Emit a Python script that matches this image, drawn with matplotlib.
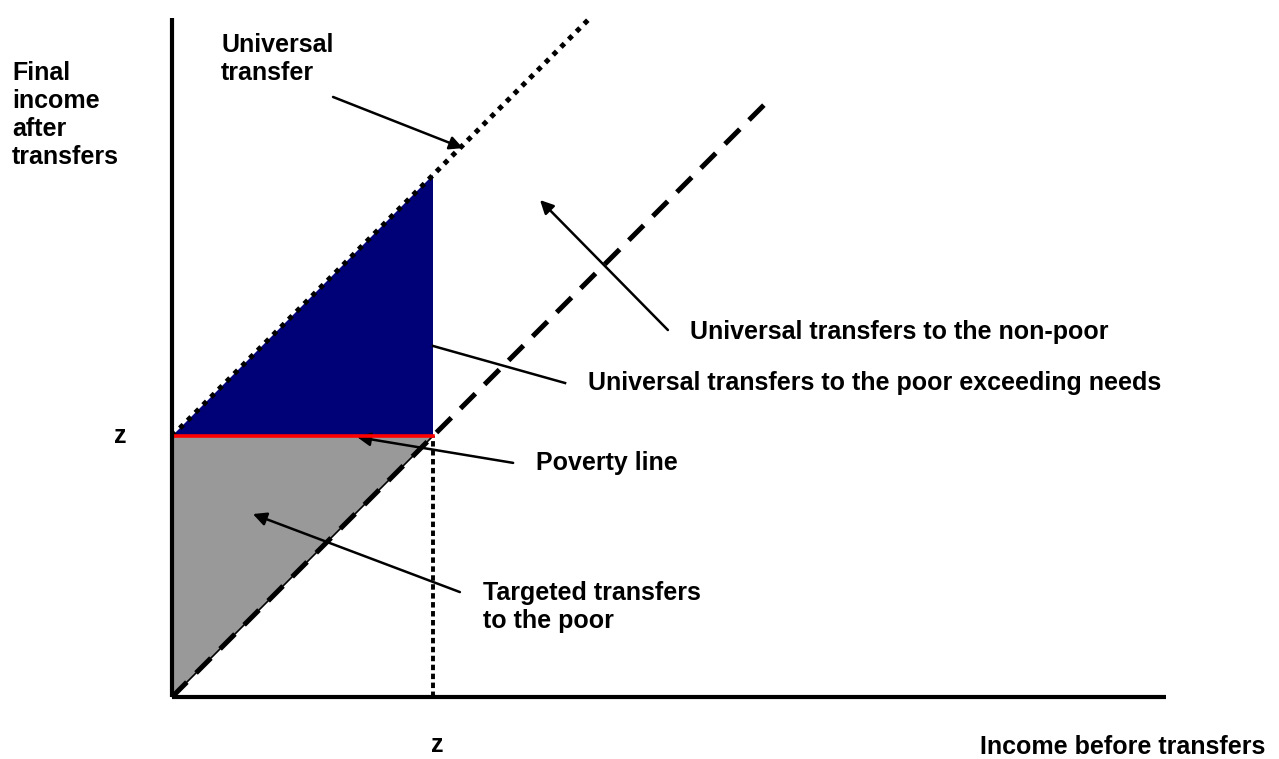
import matplotlib.pyplot as plt

# Data (in units of the poverty line z)
z = 1.0
x_axis_end = 3.81
y_axis_end = 2.60
no_transfer_end = 2.27          # 45-degree line: income after = income before
universal_end = 1.60            # universal transfer line: income after = income before + z

plt.rcParams['font.family'] = ['Liberation Sans', 'DejaVu Sans']

fig = plt.figure(figsize=(12.79, 7.59), dpi=100)
ax = fig.add_axes([0, 0, 1, 1])
ax.set_xlim(-172 / 261, (1279 - 172) / 261)
ax.set_ylim(-62 / 261, 697 / 261)
ax.axis('off')

# shaded areas
ax.fill([0, z, 0], [z, z, 0], facecolor='#999999', edgecolor='black', lw=1.2, zorder=1)
ax.fill([0, z, z], [z, z, 2 * z], color='#000077', lw=0, zorder=1)

# lines
ax.plot([0, no_transfer_end], [0, no_transfer_end], color='black', lw=3.6,
        dashes=(4.2, 2.6), zorder=3)
ax.plot([0, universal_end], [z, universal_end + z], color='black', lw=3.6,
        linestyle=(0, (1.0, 1.2)), zorder=3)
ax.plot([z, z], [0, z], color='black', lw=2.8, linestyle=(0, (1.4, 0.9)), zorder=3)
ax.plot([0, z], [z, z], color='red', lw=2.6, zorder=4)

# axes
ax.plot([0, 0], [0, y_axis_end], color='black', lw=3, solid_capstyle='butt', zorder=5)
ax.plot([0, x_axis_end], [0, 0], color='black', lw=3, solid_capstyle='butt', zorder=5)

fs = 18
tk = dict(fontsize=fs, fontweight='bold', color='black')
ax.text(-0.613, 2.23, 'Final\nincome\nafter\ntransfers', va='center', ha='left', linespacing=1.2, **tk)
ax.text(-0.199, z, 'z', va='center', ha='center', **tk)
ax.text(1.015, -0.185, 'z', va='center', ha='center', **tk)
ax.text(3.096, -0.19, 'Income before transfers', va='center', ha='left', **tk)

ap = dict(arrowstyle='-|>', color='black', lw=1.8, mutation_scale=20, shrinkA=0, shrinkB=0)
ax.text(0.188, 2.444, 'Universal\ntransfer', va='center', ha='left', linespacing=1.2, **tk)
ax.annotate('', xy=(1.115, 2.103), xytext=(0.617, 2.299), arrowprops=ap)
ax.text(1.985, 1.398, 'Universal transfers to the non-poor', va='center', ha='left', **tk)
ax.annotate('', xy=(1.410, 1.904), xytext=(1.900, 1.406), arrowprops=ap)
ax.text(1.594, 1.203, 'Universal transfers to the poor exceeding needs', va='center', ha='left', **tk)
ax.plot([1.506, 1.0], [1.203, 1.345], color='black', lw=1.8, zorder=2)
ax.text(1.395, 0.897, 'Poverty line', va='center', ha='left', **tk)
ax.annotate('', xy=(0.709, 0.996), xytext=(1.307, 0.897), arrowprops=ap)
ax.text(1.192, 0.345, 'Targeted transfers\nto the poor', va='center', ha='left', linespacing=1.2, **tk)
ax.annotate('', xy=(0.310, 0.701), xytext=(1.103, 0.402), arrowprops=ap)

fig.savefig('out.png', dpi=100)
